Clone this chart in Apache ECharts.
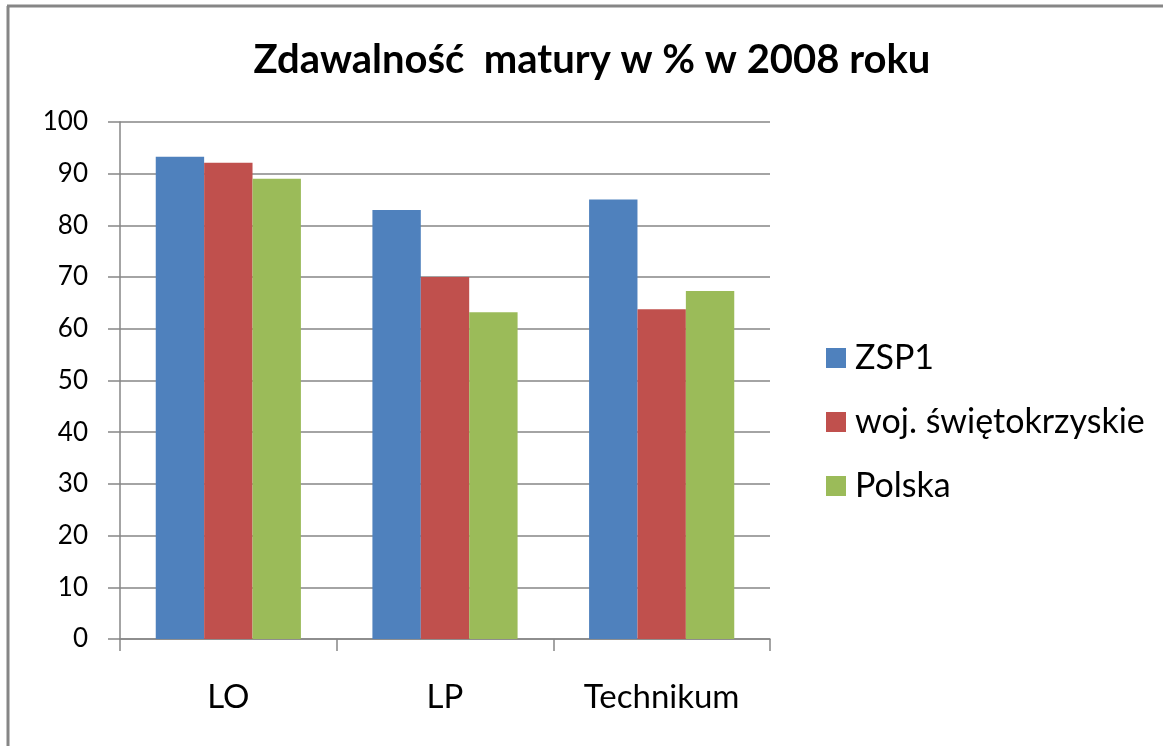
<!DOCTYPE html>
<html>
<head>
<meta charset="utf-8">
<script src="https://cdn.jsdelivr.net/npm/echarts@6/dist/echarts.min.js"></script>
<style>
  html, body { margin: 0; padding: 0; background: #fff; }
  #chart { width: 1163px; height: 746px; }
</style>
</head>
<body>
<div id="chart"></div>
<script>
  // dane
  const categories = ['LO', 'LP', 'Technikum']
  const seriesNames = ['ZSP1', 'woj. świętokrzyskie', 'Polska']
  const zsp1 = [93.3, 83.0, 85.0]
  const swietokrzyskie = [92.1, 70.0, 63.8]
  const polska = [89.0, 63.2, 67.3]
  const colors = ['#4F81BD', '#C0504D', '#9BBB59']

  const font = 'Lato'
  const chart = echarts.init(document.getElementById('chart'))

  const option = {
    animation: false,
    color: colors,
    title: {
      text: 'Zdawalność  matury w % w 2008 roku',
      left: 587,
      textAlign: 'center',
      top: 35,
      textStyle: { fontFamily: font, fontSize: 40, fontWeight: 'bold', color: '#000' }
    },
    legend: {
      orient: 'vertical',
      left: 821,
      top: 336,
      itemWidth: 20,
      itemHeight: 20,
      itemGap: 30,
      icon: 'rect',
      textStyle: { fontFamily: font, fontSize: 34, lineHeight: 20, color: '#000', padding: [0, 0, 0, 4] },
      data: seriesNames
    },
    grid: { left: 120, right: 393, top: 122, bottom: 107 },
    xAxis: {
      type: 'category',
      data: categories,
      axisLine: { lineStyle: { color: '#868686', width: 1.5 } },
      axisTick: { show: true, length: 12, alignWithLabel: false, lineStyle: { color: '#868686', width: 1.5 } },
      axisLabel: { margin: 42, fontFamily: font, fontSize: 33, color: '#000' }
    },
    yAxis: {
      type: 'value',
      min: 0,
      max: 100,
      interval: 10,
      axisLine: { show: true, lineStyle: { color: '#868686', width: 1.5 } },
      axisTick: { show: true, length: 12, lineStyle: { color: '#868686', width: 1.5 } },
      axisLabel: { margin: 32, fontFamily: font, fontSize: 26, color: '#000' },
      splitLine: { lineStyle: { color: '#868686', width: 1.5 } }
    },
    series: [
      { name: seriesNames[0], type: 'bar', data: zsp1, barGap: '0%', barCategoryGap: '33%' },
      { name: seriesNames[1], type: 'bar', data: swietokrzyskie, barGap: '0%', barCategoryGap: '33%' },
      { name: seriesNames[2], type: 'bar', data: polska, barGap: '0%', barCategoryGap: '33%' }
    ],
    graphic: [
      { type: 'line', shape: { x1: 7, y1: 6, x2: 1163, y2: 6 }, style: { stroke: '#868686', lineWidth: 3 } },
      { type: 'line', shape: { x1: 8, y1: 6, x2: 8, y2: 746 }, style: { stroke: '#868686', lineWidth: 3 } }
    ]
  }

  chart.setOption(option)
</script>
</body>
</html>
